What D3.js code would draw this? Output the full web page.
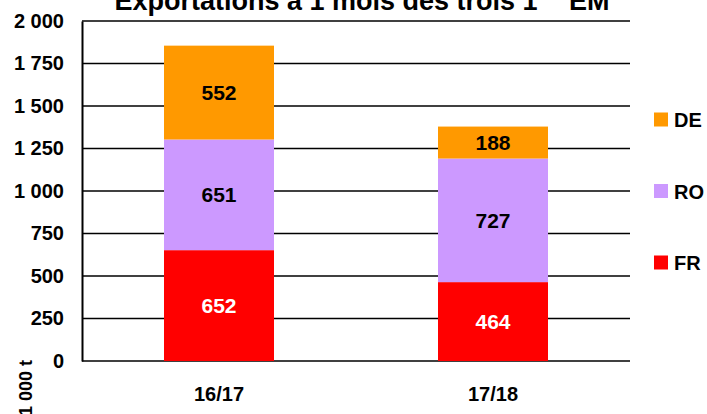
<!DOCTYPE html>
<html>
<head>
<meta charset="utf-8">
<script src="https://cdn.jsdelivr.net/npm/d3@7"></script>
<style>
  body { margin: 0; background: #fff; }
  text { font-family: "Liberation Sans", Arial, sans-serif; font-weight: bold; }
</style>
</head>
<body>
<script>
var categories = ["16/17", "17/18"];
var seriesNames = ["FR", "RO", "DE"];
var seriesColors = ["#ff0000", "#cc99ff", "#ff9900"];
var frValues = [652, 464];
var roValues = [651, 727];
var deValues = [552, 188];
var yTicks = [0, 250, 500, 750, 1000, 1250, 1500, 1750, 2000];

var W = 707, H = 414;
var svg = d3.select("body").append("svg")
              .attr("width", W)
              .attr("height", H);

var x = d3.scaleBand().domain(categories).range([82, 630]).paddingInner(0).paddingOuter(0);
var y = d3.scaleLinear().domain([0, 2000]).range([361, 21]);

var rows = categories.map(function (c, i) {
    return {cat: c, FR: frValues[i], RO: roValues[i], DE: deValues[i]};
});
var stacked = d3.stack().keys(seriesNames)(rows);

// gridlines
svg.append("g").selectAll("line")
    .data(yTicks)
    .enter().append("line")
        .attr("x1", 82).attr("x2", 630)
        .attr("y1", function (d) { return y(d); })
        .attr("y2", function (d) { return y(d); })
        .attr("stroke", "#000").attr("stroke-width", 1.5);

// y axis
var yAxis = svg.append("g").attr("transform", "translate(82,0)")
    .call(d3.axisLeft(y).tickValues(yTicks).tickSize(0).tickPadding(18)
        .tickFormat(function (d) { return d3.format(",")(d).replace(",", " "); }));
yAxis.select(".domain").attr("stroke", "#000").attr("stroke-width", 2);
yAxis.selectAll("text").attr("font-size", 20).attr("fill", "#000")
    .style("font-family", "Liberation Sans, Arial, sans-serif").style("font-weight", "bold");

// bars
var barW = 110;
stacked.forEach(function (layer, li) {
    var g = svg.append("g");
    g.selectAll("rect")
        .data(layer)
        .enter().append("rect")
            .attr("x", function (d) { return x(d.data.cat) + x.bandwidth() / 2 - barW / 2; })
            .attr("width", barW)
            .attr("y", function (d) { return y(d[1]); })
            .attr("height", function (d) { return y(d[0]) - y(d[1]); })
            .attr("fill", seriesColors[li]);
    g.selectAll("text")
        .data(layer)
        .enter().append("text")
            .attr("x", function (d) { return x(d.data.cat) + x.bandwidth() / 2; })
            .attr("y", function (d) { return (y(d[0]) + y(d[1])) / 2; })
            .attr("dy", "0.36em")
            .attr("text-anchor", "middle")
            .attr("font-size", 21)
            .attr("fill", li === 0 ? "#fff" : "#000")
            .text(function (d) { return d[1] - d[0]; });
});

// x labels
svg.append("g").selectAll("text")
    .data(categories)
    .enter().append("text")
        .attr("x", function (d) { return x(d) + x.bandwidth() / 2; })
        .attr("y", 401)
        .attr("text-anchor", "middle")
        .attr("font-size", 20)
        .text(function (d) { return d; });

// unit label
svg.append("text")
    .attr("transform", "translate(32,360) rotate(-90)")
    .attr("text-anchor", "end")
    .attr("font-size", 18)
    .text("1 000 t");

// legend
var legendY = [262.5, 191, 119.5];
var legend = svg.append("g").selectAll("g")
    .data(seriesNames)
    .enter().append("g")
        .attr("transform", function (d, i) { return "translate(654," + legendY[i] + ")"; });
legend.append("rect")
    .attr("x", 0).attr("y", -7).attr("width", 14).attr("height", 14)
    .attr("fill", function (d, i) { return seriesColors[i]; });
legend.append("text")
    .attr("x", 20).attr("y", 7.5)
    .attr("font-size", 20)
    .text(function (d) { return d; });

// title (cut off at the top, as in the original)
var title = svg.append("text")
    .attr("x", 362).attr("y", 10)
    .attr("text-anchor", "middle")
    .attr("font-size", 27);
title.append("tspan").text("Exportations à 1 mois des trois 1");
title.append("tspan").attr("font-size", 16).attr("dy", -11).text("ers");
title.append("tspan").attr("dy", 11).text(" EM");
</script>
</body>
</html>
